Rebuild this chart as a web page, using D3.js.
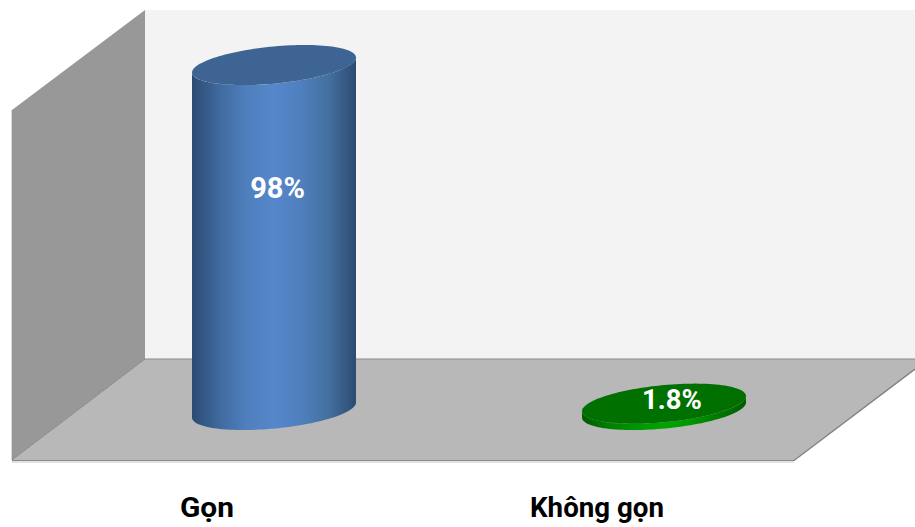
<!DOCTYPE html>
<html><head><meta charset="utf-8">
<script src="https://cdn.jsdelivr.net/npm/d3@7/dist/d3.min.js"></script>
<style>html,body{margin:0;padding:0;background:#fff;overflow:hidden}svg{display:block}</style>
</head><body><svg id="c" width="915" height="527"></svg>
<script>
const categories = ["Gọn", "Không gọn"];
const values = [98, 1.8];
const valueLabels = ["98%", "1.8%"];
const bodyStops = [
  ["#2c4a72","#3f6a9f","#4f7fbd","#5587cb","#4f7fbd","#44709f","#2d4b72"],
  ["#005a00","#007f00","#009600","#00a400","#009600","#007800","#005c00"]
];
const topColors = ["#3d6493", "#007000"];

const svg = d3.select("#c");
const defs = svg.append("defs");
const x = d3.scaleBand().domain(categories).range([79, 859]);
const y = d3.scaleLinear().domain([0, 100]).range([410, 58]);

const poly = (pts, fill) => svg.append("polygon").attr("points", pts.join(" ")).attr("fill", fill);
poly([[145,10],[915,10],[915,359],[145,359]], "#f3f3f3");
poly([[12,110],[145,10],[145,359],[12,460]], "#989898");
poly([[12,460],[145,359],[915,359],[915,369],[794,460]], "#b8b8b8");
const line = (a, b, c, w) => svg.append("line").attr("x1",a[0]).attr("y1",a[1]).attr("x2",b[0]).attr("y2",b[1]).attr("stroke",c).attr("stroke-width",w);
line([12,462],[794,462],"#e2e2e2",2);
line([12,460.5],[795,460.5],"#8a8a8a",1.2);
line([145,359],[915,359],"#8a8a8a",1.2);
line([145,359],[12,460],"#8a8a8a",1);
line([12,110],[12,460],"#8c8c8c",0.6);
line([794,460.5],[915,369],"#808080",1.4);

const rx = 82, shear = 7.5 / rx, ry = 18.6;
const ell = (cx, cy, t) => [cx + rx * Math.cos(t), cy - shear * rx * Math.cos(t) + ry * Math.sin(t)];
const angles = d3.range(0, 64).map(i => i / 63 * Math.PI);
const lineGen = d3.line();

categories.forEach((c, i) => {
  const cx = x(c) + x.bandwidth() / 2;
  const yBase = y(0), yTop = y(values[i]);
  const id = "g" + i;
  const g = defs.append("linearGradient").attr("id", id)
    .attr("gradientUnits","userSpaceOnUse")
    .attr("x1", cx - rx).attr("x2", cx + rx).attr("y1", 0).attr("y2", 0);
  bodyStops[i].forEach((s, k) => g.append("stop").attr("offset", k / (bodyStops[i].length - 1)).attr("stop-color", s));
  const bottomArc = angles.map(t => ell(cx, yBase, t));
  const topArc = angles.map(t => ell(cx, yTop, t)).reverse();
  svg.append("path").attr("d", lineGen(bottomArc.concat(topArc)) + "Z").attr("fill", `url(#${id})`);
  const whole = d3.range(0, 128).map(k => ell(cx, yTop, k / 128 * 2 * Math.PI));
  svg.append("path").attr("d", lineGen(whole) + "Z").attr("fill", topColors[i]);
});

const fontFamily = "Roboto, 'Liberation Sans', sans-serif";
const valueOffsets = [3.5, 8];
const valueDy = [133, 5.5];
const valueSizes = [29, 27.5];
const labelWidths = [54, 134];
categories.forEach((c, i) => {
  const cx = x(c) + x.bandwidth() / 2;
  svg.append("text").attr("x", cx + valueOffsets[i])
    .attr("y", y(values[i]) + valueDy[i])
    .attr("text-anchor","middle").attr("fill","#fff")
    .attr("font-family",fontFamily).attr("font-weight",700).attr("font-size",valueSizes[i])
    .text(valueLabels[i]);
  svg.append("text").attr("x", cx - 67).attr("y", 517)
    .attr("text-anchor","middle").attr("fill","#000")
    .attr("font-family",fontFamily).attr("font-weight",700).attr("font-size",28.5)
    .attr("textLength",labelWidths[i]).attr("lengthAdjust","spacingAndGlyphs")
    .text(c);
});
</script></body></html>
